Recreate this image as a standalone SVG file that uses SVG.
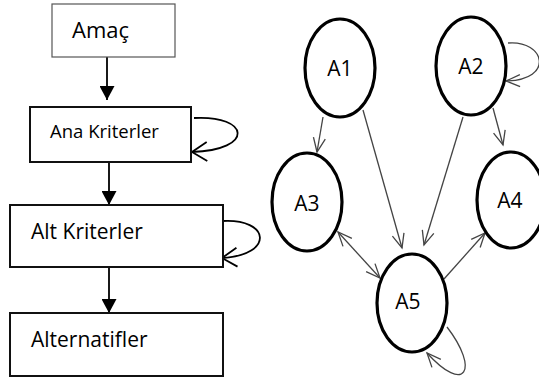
<svg xmlns="http://www.w3.org/2000/svg" width="539" height="382" viewBox="0 0 539 382">
<style>
.box{fill:#fff;stroke:#111;stroke-width:2}
.box0{fill:#fff;stroke:#555;stroke-width:1.2}
.ell{fill:#fff;stroke:#000;stroke-width:3.2}
.t{font-family:"Open Sans",sans-serif;fill:#000}
.lbl{font-family:"Open Sans",sans-serif;fill:#000;font-size:21px;text-anchor:middle}
.main{stroke:#000;stroke-width:1.8;fill:none}
.edge{stroke:#444;stroke-width:1.3;fill:none}
.loop{stroke:#000;stroke-width:1.8;fill:none}
</style>
<defs>
<marker id="fa" markerUnits="userSpaceOnUse" viewBox="0 0 14 15" refX="14" refY="7.5" markerWidth="14" markerHeight="15" orient="auto">
<path d="M0,0 L14,7.5 L0,15 z" fill="#000"/>
</marker>
<marker id="oa" markerUnits="userSpaceOnUse" viewBox="-1 -1 16 14" refX="14" refY="6" markerWidth="16" markerHeight="14" orient="auto-start-reverse" overflow="visible">
<path d="M0,0 L14,6 L0,12" fill="none" stroke="#444" stroke-width="1.3"/>
</marker>
<marker id="la" markerUnits="userSpaceOnUse" viewBox="-1 -1 17 21" refX="15" refY="9.5" markerWidth="17" markerHeight="21" orient="auto" overflow="visible">
<path d="M0,0 L15,9.5 L0,19" fill="none" stroke="#000" stroke-width="1.8"/>
</marker>
</defs>
<g id="connectors">
<line class="main" x1="107" y1="57" x2="107" y2="100" marker-end="url(#fa)"/>
<line class="main" x1="109" y1="162" x2="109" y2="205" marker-end="url(#fa)"/>
<line class="main" x1="109" y1="268" x2="109" y2="313" marker-end="url(#fa)"/>
<path class="loop" d="M194,118 C250,115 255,150 192,152" marker-end="url(#la)"/>
<path class="loop" d="M222,221 C270,218 275,255 222,258" marker-end="url(#la)"/>
<line class="edge" x1="323" y1="117" x2="317" y2="152" marker-end="url(#oa)"/>
<line class="edge" x1="363" y1="110" x2="402" y2="248" marker-end="url(#oa)"/>
<line class="edge" x1="463" y1="117" x2="424" y2="245" marker-end="url(#oa)"/>
<line class="edge" x1="493" y1="108" x2="503" y2="145" marker-end="url(#oa)"/>
<line class="edge" x1="338" y1="232" x2="380" y2="278" marker-start="url(#oa)" marker-end="url(#oa)"/>
<line class="edge" x1="444" y1="279" x2="485" y2="233" marker-end="url(#oa)"/>
<path class="edge" d="M508,43 C545,40 555,80 506,81" marker-end="url(#oa)"/>
<path class="edge" d="M447,327 C480,370 465,395 427,353" marker-end="url(#oa)"/>
</g>
<g id="amac">
<rect class="box0" x="52" y="4" width="123" height="53"/>
<text class="t" x="72" y="38" font-size="22">Amaç</text>
</g>
<g id="ana">
<rect class="box" x="30" y="107" width="161" height="55"/>
<text class="t" x="50" y="138" font-size="18.5">Ana Kriterler</text>
</g>
<g id="alt">
<rect class="box" x="10" y="205" width="213" height="62"/>
<text class="t" x="31" y="239" font-size="21">Alt Kriterler</text>
</g>
<g id="alternatifler">
<rect class="box" x="10" y="313" width="213" height="63"/>
<text class="t" x="31" y="347" font-size="21">Alternatifler</text>
</g>
<g id="A1">
<ellipse class="ell" cx="340" cy="68" rx="35" ry="49"/>
<text class="lbl" x="340" y="76">A1</text>
</g>
<g id="A2">
<ellipse class="ell" cx="471" cy="66" rx="35" ry="49"/>
<text class="lbl" x="471" y="74">A2</text>
</g>
<g id="A3">
<ellipse class="ell" cx="307" cy="202" rx="35" ry="49"/>
<text class="lbl" x="307" y="211">A3</text>
</g>
<g id="A4">
<ellipse class="ell" cx="511" cy="200" rx="34" ry="48"/>
<text class="lbl" x="510" y="208">A4</text>
</g>
<g id="A5">
<ellipse class="ell" cx="412" cy="303" rx="35" ry="49"/>
<text class="lbl" x="408" y="309">A5</text>
</g>
</svg>
